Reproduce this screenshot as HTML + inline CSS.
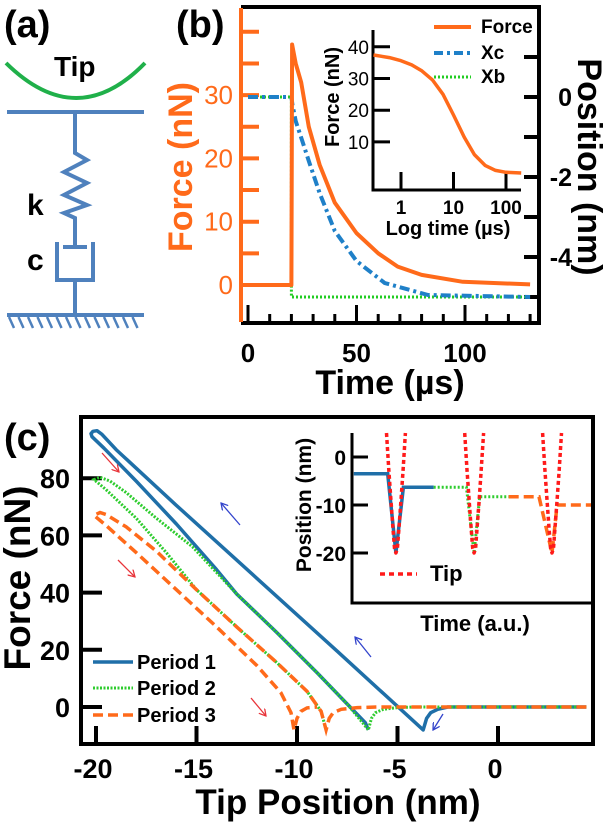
<!DOCTYPE html>
<html><head><meta charset="utf-8"><style>
html,body{margin:0;padding:0;background:#fff;}
svg{display:block;font-family:"Liberation Sans",Arial,sans-serif;}
.b{font-weight:bold;}
</style></head><body>
<svg id="fig" width="605" height="824" viewBox="0 0 605 824" xmlns="http://www.w3.org/2000/svg">
<defs>
<marker id="ahr" markerWidth="8" markerHeight="8" refX="7" refY="4" orient="auto" markerUnits="userSpaceOnUse"><path d="M0,0 L7,4 L0,8" fill="none" stroke="#e8343a" stroke-width="1.3"/></marker>
<marker id="ahb" markerWidth="8" markerHeight="8" refX="7" refY="4" orient="auto" markerUnits="userSpaceOnUse"><path d="M0,0 L7,4 L0,8" fill="none" stroke="#3344cc" stroke-width="1.3"/></marker>
</defs>
<!-- Panel a -->
<g>
<text x="4" y="37" font-size="38" class="b">(a)</text>
<path d="M6,63 Q77,133 145,63" fill="none" stroke="#20b04a" stroke-width="4"/>
<text x="54" y="76" font-size="28" class="b">Tip</text>
<line x1="7" y1="112" x2="144" y2="112" stroke="#4f81bd" stroke-width="4"/>
<polyline points="75,112 75,153 87,160 64,172 87,183 64,195 87,205 64,213 75,218 75,247" fill="none" stroke="#4f81bd" stroke-width="4"/>
<line x1="63" y1="247" x2="87" y2="247" stroke="#4f81bd" stroke-width="4"/>
<polyline points="57,242 57,280 93,280 93,242" fill="none" stroke="#4f81bd" stroke-width="4"/>
<line x1="75" y1="280" x2="75" y2="315" stroke="#4f81bd" stroke-width="4"/>
<line x1="7" y1="315" x2="144" y2="315" stroke="#4f81bd" stroke-width="4"/>
<g id="hatch" stroke="#4f81bd" stroke-width="2.5"></g>
<text x="27" y="215" font-size="30" class="b">k</text>
<text x="27" y="270" font-size="30" class="b">c</text>
</g>
<!-- Panel b -->
<g>
<text x="176" y="37" font-size="38" class="b">(b)</text>
<polyline points="241,7 539,7 539,323 241,323" fill="none" stroke="#000" stroke-width="4"/>
<g id="bTicks"></g>
<line x1="241" y1="8" x2="241" y2="322" stroke="#ff6a1a" stroke-width="4"/>
<g id="bMarks"></g>
<text transform="translate(192,167) rotate(-90)" text-anchor="middle" font-size="34" class="b" fill="#ff6a1a">Force (nN)</text>
<text transform="translate(578,167) rotate(90)" text-anchor="middle" font-size="34" class="b">Position (nm)</text>
<text x="390" y="394" text-anchor="middle" font-size="34" class="b">Time (µs)</text>
<!-- inset b -->
<polyline points="373,30 373,190 521,190" fill="none" stroke="#000" stroke-width="3"/>
<g id="biTicks"></g>
<g id="biMarks"></g>
<text transform="translate(339,97) rotate(-90)" text-anchor="middle" font-size="20" class="b">Force (nN)</text>
<text x="448" y="235" text-anchor="middle" font-size="20" class="b">Log time (µs)</text>
<g>
<line x1="434" y1="27" x2="471" y2="27" stroke="#ff6a1a" stroke-width="4"/>
<text x="481" y="33" font-size="19" class="b">Force</text>
<line x1="434" y1="53" x2="471" y2="53" stroke="#1f80c8" stroke-width="4" stroke-dasharray="9,4,3,4"/>
<text x="481" y="59" font-size="19" class="b">Xc</text>
<line x1="434" y1="77" x2="471" y2="77" stroke="#22cc22" stroke-width="3" stroke-dasharray="2,2"/>
<text x="481" y="83" font-size="19" class="b">Xb</text>
</g>
</g>
<!-- Panel c -->
<g>
<text x="4" y="450" font-size="38" class="b">(c)</text>
<rect x="81" y="417" width="512" height="327" fill="none" stroke="#000" stroke-width="4"/>
<g id="cTicks"></g>
<g id="cMarks"></g>
<text transform="translate(30,578) rotate(-90)" text-anchor="middle" font-size="37" class="b">Force (nN)</text>
<text x="338" y="814" text-anchor="middle" font-size="35" class="b">Tip Position (nm)</text>
<g>
<line x1="102" y1="453" x2="119" y2="472" stroke="#e8343a" stroke-width="1.3" marker-end="url(#ahr)"/>
<line x1="118" y1="560" x2="135" y2="577" stroke="#e8343a" stroke-width="1.3" marker-end="url(#ahr)"/>
<line x1="251" y1="698" x2="266" y2="716" stroke="#e8343a" stroke-width="1.3" marker-end="url(#ahr)"/>
<line x1="240" y1="525" x2="221" y2="503" stroke="#3344cc" stroke-width="1.3" marker-end="url(#ahb)"/>
<line x1="371" y1="657" x2="355" y2="637" stroke="#3344cc" stroke-width="1.3" marker-end="url(#ahb)"/>
<line x1="443" y1="714" x2="433" y2="730" stroke="#3344cc" stroke-width="1.3" marker-end="url(#ahb)"/>
</g>
<g>
<line x1="93" y1="662" x2="133" y2="662" stroke="#1f6fa8" stroke-width="3.5"/>
<text x="137" y="669" font-size="20" class="b">Period 1</text>
<line x1="93" y1="688" x2="133" y2="688" stroke="#2ecc2e" stroke-width="3" stroke-dasharray="2,1.5"/>
<text x="137" y="695" font-size="20" class="b">Period 2</text>
<line x1="93" y1="715" x2="133" y2="715" stroke="#ff6a1a" stroke-width="3.5" stroke-dasharray="10,5"/>
<text x="137" y="722" font-size="20" class="b">Period 3</text>
</g>
<!-- inset c -->
<polyline points="352,433 352,603 591,603" fill="none" stroke="#000" stroke-width="3"/>
<g id="ciTicks"></g>
<g id="ciMarks"></g>
<text transform="translate(311,505) rotate(-90)" text-anchor="middle" font-size="21" class="b">Position (nm)</text>
<text x="475" y="631" text-anchor="middle" font-size="22" class="b">Time (a.u.)</text>
<line x1="380" y1="574" x2="417" y2="574" stroke="#ff1a1a" stroke-width="3.5" stroke-dasharray="5,4"/>
<text x="430" y="581" font-size="22" class="b">Tip</text>
</g>
</svg>
<script>
// ---- Panel b data ----
const forceT = [-3, 20, 20.3, 22, 24.5, 28, 33, 40, 50, 60, 69, 80, 99, 130];
const forceF = [0, 0, 38, 35, 32, 25, 19, 13, 8.2, 5, 2.9, 1.6, 0.5, 0.1];
const xcT = [0, 20, 20.5, 22, 25, 28, 33, 40, 50, 63, 83, 130];
const xcPos = [0, 0, -0.2, -0.6, -1.1, -1.6, -2.4, -3.35, -4.1, -4.65, -4.95, -5];
const xbT = [0, 20, 20, 130];
const xbPos = [0, 0, -5, -5];
const bTimeTicks = [0, 50, 100];
const bForceTicks = [0, 10, 20, 30];
const bPosTicks = [0, -2, -4];
// inset b
const logT = [0.3, 0.6, 1, 1.6, 2.5, 4, 6.3, 10, 16, 25, 40, 63, 100, 195];
const logF = [37.4, 36.6, 35.6, 34.3, 32.4, 29.5, 25, 18.5, 11.5, 6, 2.6, 1, 0.4, 0.2];
const insetTimeTicks = [1, 10, 100];
const insetForceTicks = [10, 20, 30, 40];
// ---- Panel c data ----
const p1X = [4.4, -2.5, -3.0, -3.35, -3.55, -3.72, -8, -12, -16, -19, -19.7, -19.95, -20.15, -20.25, -20.2, -19.6, -18, -16, -14, -13, -11, -9, -7.5, -6.6, -6.45];
const p1F = [0, 0, -0.8, -2, -4, -8, 19.5, 45, 70.5, 90, 95.3, 96.6, 96.4, 95.6, 94.5, 90.5, 79, 64, 48, 39.5, 26, 12, 1, -5.5, -8];
const p2X = [4.4, -4.2, -5.0, -5.7, -6.1, -6.3, -6.45, -7.5, -9, -11, -13, -15.2, -17, -18.5, -19.3, -19.8, -20.1, -19.5, -18, -16.5, -15, -13, -11, -9.5, -8.8, -8.55];
const p2F = [0, 0, -0.2, -0.8, -2, -4, -8, 1, 12, 26, 39.5, 56, 66, 75, 79, 80.3, 79.5, 76, 66, 54, 41, 28, 15.5, 5.5, -1.5, -8];
const p3X = [4.4, -6.0, -7.0, -7.8, -8.2, -8.4, -8.55, -8.8, -9.5, -11, -13, -15, -17, -18.5, -19.5, -19.8, -20.1, -19.5, -18, -16, -14, -12, -10.8, -10.3, -10.15, -10.0, -9.8, -9.5, -9.0];
const p3F = [0, 0, -0.2, -0.8, -2, -4, -8, -1.5, 5.5, 15.5, 28, 41, 54.5, 63, 67.3, 68, 67, 63.5, 54, 41, 28, 14.5, 5, -2, -8, -4, -1.5, -0.3, 0];
const cXTicks = [-20, -15, -10, -5, 0];
const cXTickLabels = ["-20", "-15", "-10", "-5", "0"];
const cYTicks = [0, 20, 40, 60, 80];
// inset c
const segT1 = [0.2, 1.6, 1.94, 2.25, 3.5];
const segZ1 = [-3.5, -3.5, -20, -6.3, -6.3];
const segT2 = [3.5, 4.85, 5.17, 5.4, 6.6];
const segZ2 = [-6.3, -6.3, -20, -8.3, -8.3];
const segT3 = [6.6, 7.85, 8.39, 8.6, 10];
const segZ3 = [-8.3, -8.3, -20, -10, -10];
const tipTimes = [1.94, 5.17, 8.39];
const tipOffsets = [-0.39, -0.29, -0.2, -0.12, -0.06, 0, 0.06, 0.12, 0.2, 0.29, 0.39];
const tipZ = [5, -3, -9.5, -15, -19, -20, -19, -15, -9.5, -3, 5];
const ciTicks = [0, -10, -20];

const NS = "http://www.w3.org/2000/svg";
function mk(parent, tag, attrs) {
  const e = document.createElementNS(NS, tag);
  for (const k in attrs) e.setAttribute(k, attrs[k]);
  parent.appendChild(e);
  return e;
}
function pathD(xs, ys, fx, fy) {
  return xs.map((v, i) => (i ? "L" : "M") + fx(v).toFixed(1) + "," + fy(ys[i]).toFixed(1)).join(" ");
}
const xb = t => 248 + 2.17 * t;
const yF = f => 285 - 6.33 * f;
const yP = p => 97 - 40 * p;
const xl = t => 401 + 52.5 * Math.log10(t);
const yFi = f => 173.6 - 3.17 * f;
const xc = x => 498 + 20.1 * x;
const yc = f => 707 - 2.86 * f;
const xi = t => 349 + 24.2 * t;
const yi = p => 457 - 4.8 * p;

const hatch = document.getElementById("hatch");
for (let x = 9; x <= 140; x += 9.5) {
  const h = mk(hatch, "line", {x1: x, y1: 317, x2: x + 5, y2: 328});
  
  
}

const bT = document.getElementById("bTicks");
for (let t = 0; t <= 130; t += 10) {
  const major = t % 50 === 0;
  const l = mk(bT, "line", {x1: xb(t), x2: xb(t), y1: 322, y2: major ? 305 : 314, stroke: "#000", "stroke-width": 3});
  
  
}
bTimeTicks.forEach(t => {
  const tx = mk(bT, "text", {x: xb(t), y: 362, "text-anchor": "middle", "font-size": 26, "font-weight": "bold"});
  tx.textContent = t;
  
  
});
for (let f = 0; f <= 40; f += 5) {
  const l = mk(bT, "line", {x1: 241, x2: 259, y1: yF(f), y2: yF(f), stroke: "#ff6a1a", "stroke-width": 4});
  
  
}
bForceTicks.forEach(f => {
  const tx = mk(bT, "text", {x: 233, y: yF(f) + 9, "text-anchor": "end", "font-size": 26, fill: "#ff6a1a"});
  tx.textContent = f;
  
  
});
for (let p = 1; p >= -5; p -= 1) {
  const l = mk(bT, "line", {x1: 539, x2: 524, y1: yP(p), y2: yP(p), stroke: "#000", "stroke-width": 4});
  
  
}
bPosTicks.forEach(p => {
  const tx = mk(bT, "text", {x: 572, y: yP(p) + 9, "text-anchor": "end", "font-size": 25, "font-weight": "bold"});
  tx.textContent = p;
  
  
});
const bM = document.getElementById("bMarks");
let s = mk(bM, "path", {d: pathD(xbT, xbPos, xb, yP), fill: "none", stroke: "#22cc22", "stroke-width": 3, "stroke-dasharray": "2,2"});


s = mk(bM, "path", {d: pathD(xcT, xcPos, xb, yP), fill: "none", stroke: "#1f80c8", "stroke-width": 4, "stroke-dasharray": "10,4,3,4"});


s = mk(bM, "path", {d: pathD(forceT, forceF, xb, yF), fill: "none", stroke: "#ff6a1a", "stroke-width": 4, "stroke-linejoin": "round"});



const biT = document.getElementById("biTicks");
insetTimeTicks.forEach(t => {
  const l = mk(biT, "line", {x1: xl(t), x2: xl(t), y1: 190, y2: 172, stroke: "#000", "stroke-width": 3});
  
  
  const tx = mk(biT, "text", {x: xl(t), y: 214, "text-anchor": "middle", "font-size": 19, "font-weight": "bold"});
  tx.textContent = t;
  
  
});
insetForceTicks.forEach(f => {
  const l = mk(biT, "line", {x1: 373, x2: 390, y1: yFi(f), y2: yFi(f), stroke: "#000", "stroke-width": 3});
  
  
  const tx = mk(biT, "text", {x: 369, y: yFi(f) + 7, "text-anchor": "end", "font-size": 19});
  tx.textContent = f;
  
  
});
s = mk(document.getElementById("biMarks"), "path", {d: pathD(logT, logF, xl, yFi), fill: "none", stroke: "#ff6a1a", "stroke-width": 3.5, "stroke-linejoin": "round"});



const cT = document.getElementById("cTicks");
cXTicks.forEach((x, i) => {
  const l = mk(cT, "line", {x1: xc(x), x2: xc(x), y1: 743, y2: 726, stroke: "#000", "stroke-width": 4});
  
  
  const tx = mk(cT, "text", {x: xc(x) - 3, y: 778, "text-anchor": "middle", "font-size": 27, "font-weight": "bold"});
  tx.textContent = cXTickLabels[i];
  
  
});
cYTicks.forEach(f => {
  const l = mk(cT, "line", {x1: 81, x2: 102, y1: yc(f), y2: yc(f), stroke: "#000", "stroke-width": 4});
  
  
  const tx = mk(cT, "text", {x: 70, y: yc(f) + 10, "text-anchor": "end", "font-size": 27, "font-weight": "bold"});
  tx.textContent = f;
  
  
});
const cM = document.getElementById("cMarks");
s = mk(cM, "path", {d: pathD(p1X, p1F, xc, yc), fill: "none", stroke: "#1f6fa8", "stroke-width": 3.5, "stroke-linejoin": "round"});


s = mk(cM, "path", {d: pathD(p2X, p2F, xc, yc), fill: "none", stroke: "#2ecc2e", "stroke-width": 3, "stroke-dasharray": "2,1.5"});


s = mk(cM, "path", {d: pathD(p3X, p3F, xc, yc), fill: "none", stroke: "#ff6a1a", "stroke-width": 3.5, "stroke-dasharray": "10,5"});



const ciT = document.getElementById("ciTicks");
ciTicks.forEach(p => {
  const l = mk(ciT, "line", {x1: 352, x2: 368, y1: yi(p), y2: yi(p), stroke: "#000", "stroke-width": 3});
  
  
  const tx = mk(ciT, "text", {x: 346, y: yi(p) + 8, "text-anchor": "end", "font-size": 21, "font-weight": "bold"});
  tx.textContent = p;
  
  
});
const ciM = document.getElementById("ciMarks");
s = mk(ciM, "path", {d: pathD(segT1, segZ1, xi, yi), fill: "none", stroke: "#1f6fa8", "stroke-width": 3.5});


s = mk(ciM, "path", {d: pathD(segT2, segZ2, xi, yi), fill: "none", stroke: "#2ecc2e", "stroke-width": 3, "stroke-dasharray": "2,2"});


s = mk(ciM, "path", {d: pathD(segT3, segZ3, xi, yi), fill: "none", stroke: "#ff6a1a", "stroke-width": 3.5, "stroke-dasharray": "10,5"});


tipTimes.forEach(t0 => {
  const ts = tipOffsets.map(o => t0 + o);
  const tp = mk(ciM, "path", {d: pathD(ts, tipZ, xi, yi), fill: "none", stroke: "#ff1a1a", "stroke-width": 3.5, "stroke-dasharray": "4,3", "stroke-linejoin": "round"});
  
  
});
</script>
</body></html>
